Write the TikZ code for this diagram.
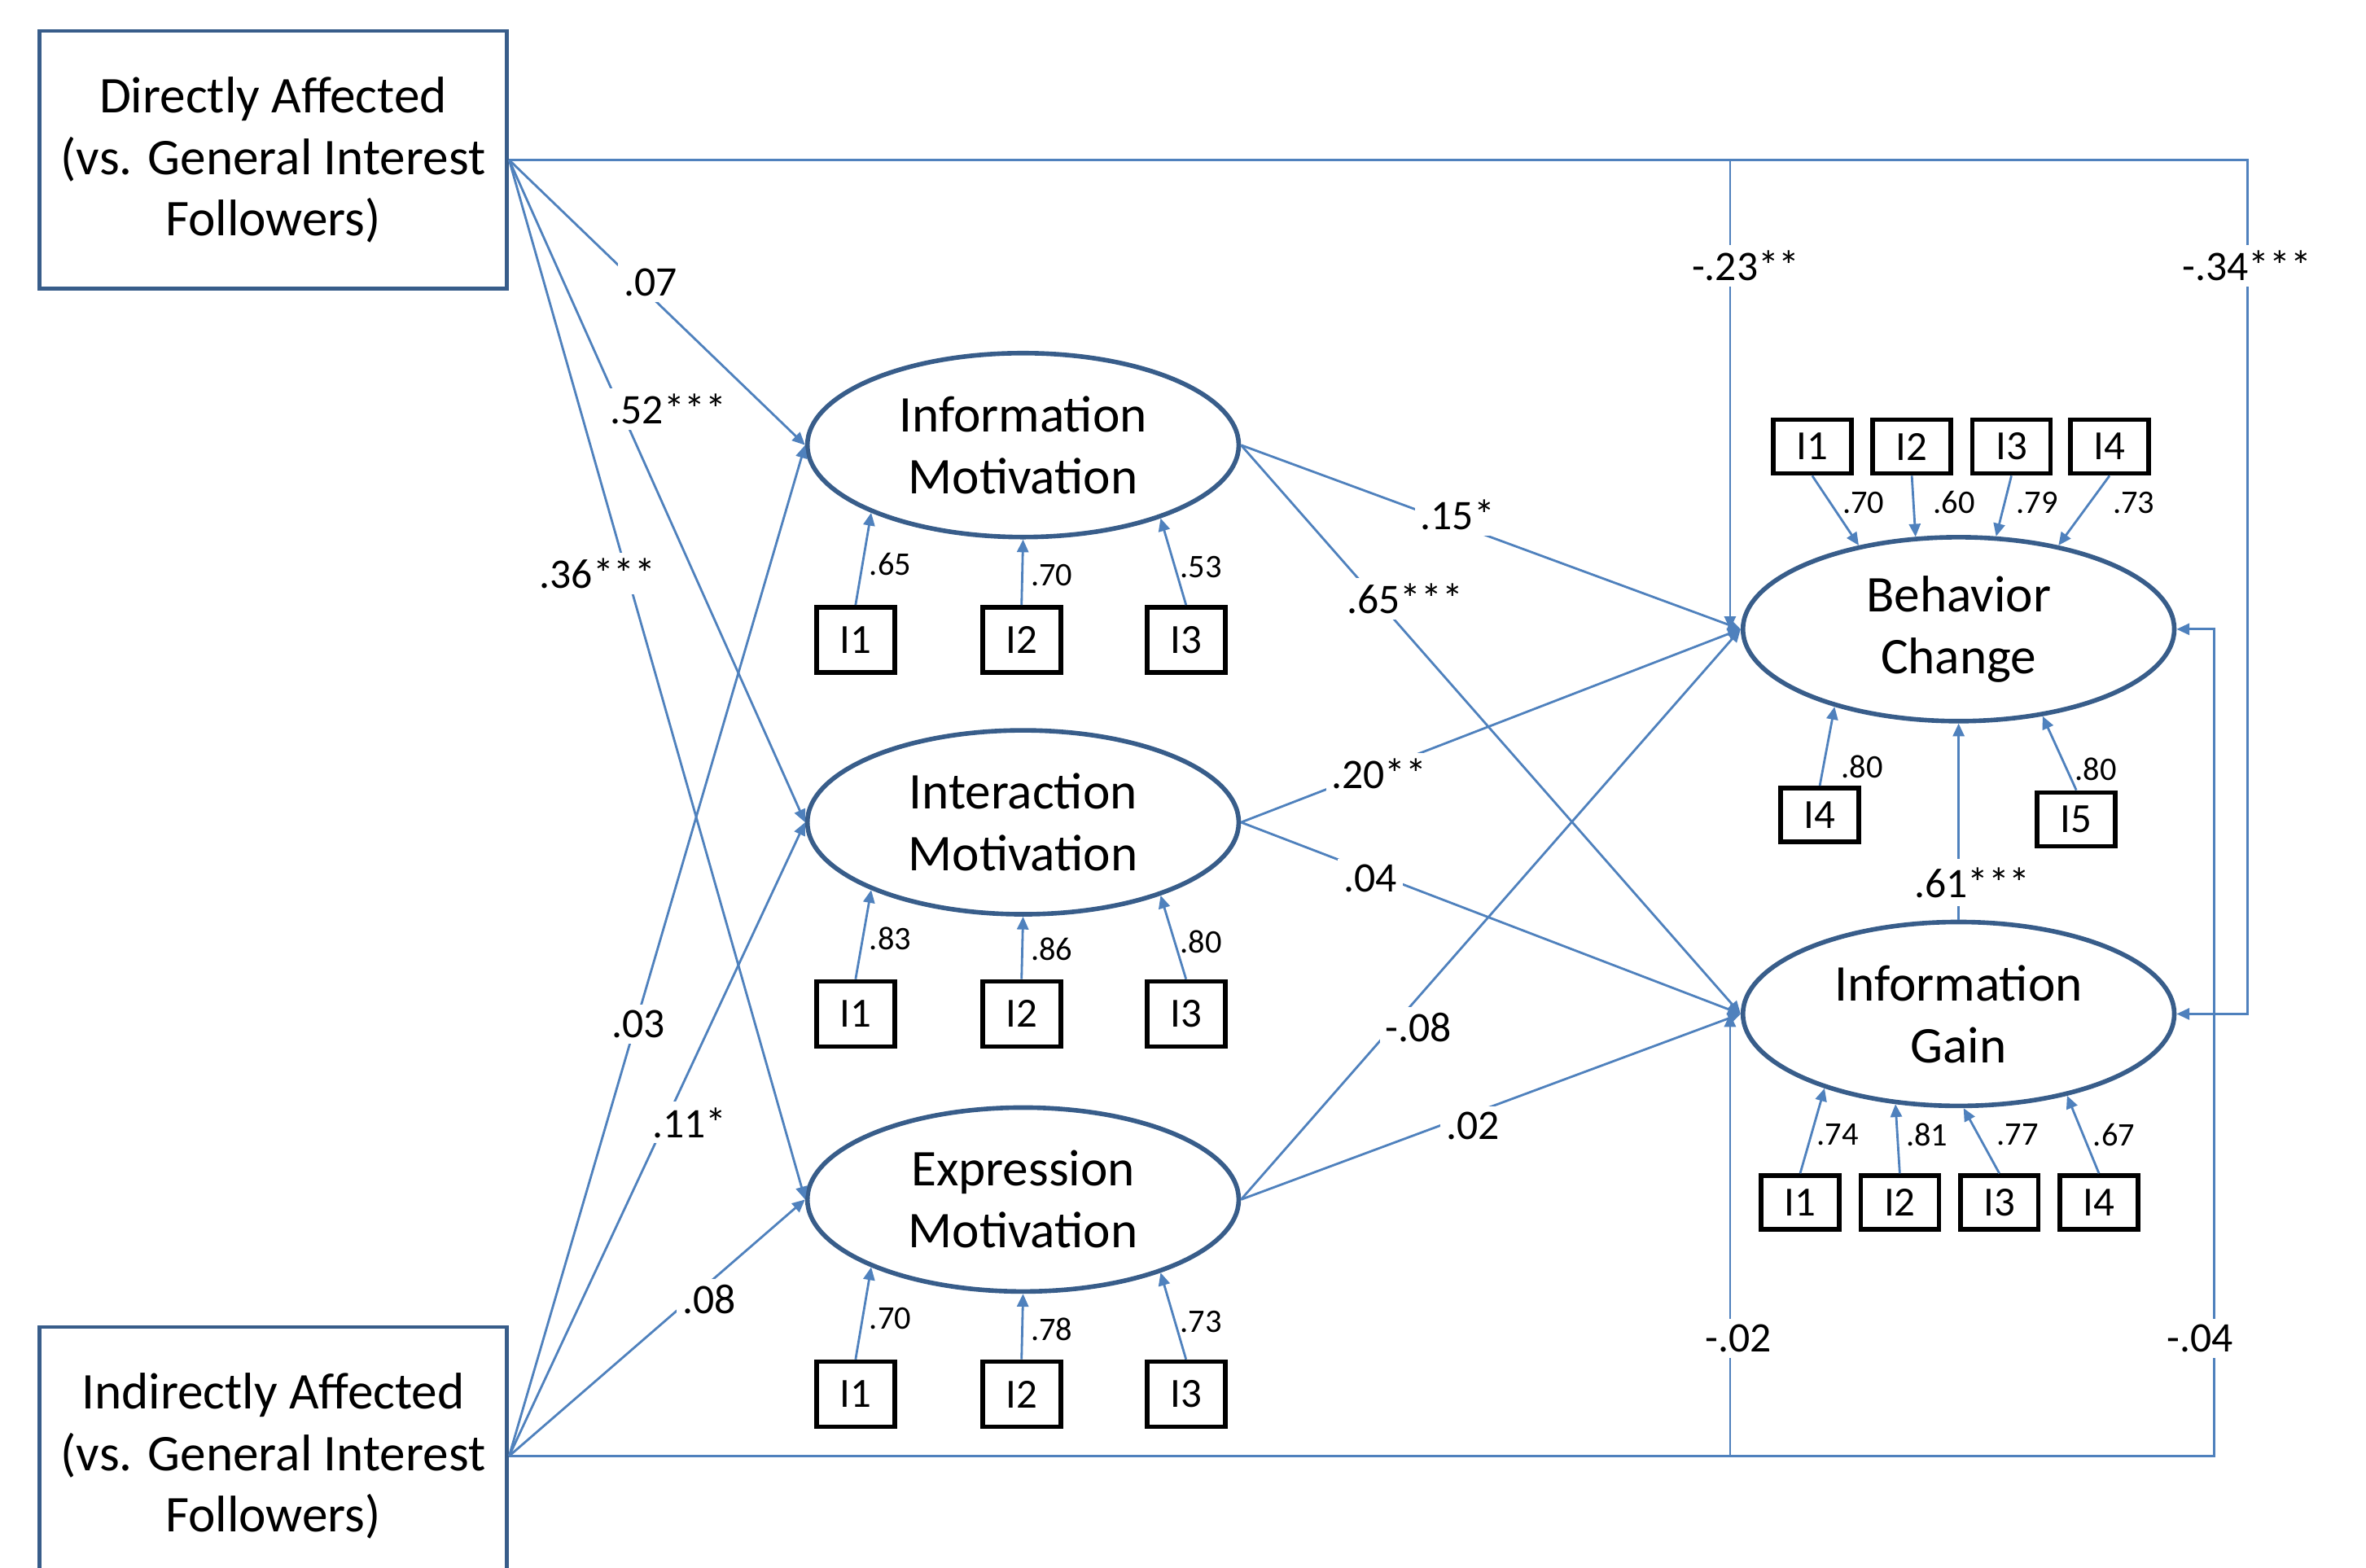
\documentclass[tikz,border=0pt]{standalone}
\usepackage{fontspec}
\setmainfont{Carlito}
\usetikzlibrary{shapes.geometric, arrows.meta, calc}
\definecolor{linkblue}{HTML}{4F81BD}
\definecolor{frameblue}{HTML}{385D8A}

\begin{document}
\begin{tikzpicture}[
    x=0.018533cm, y=-0.018533cm,
    groupbox/.style={rectangle, draw=frameblue, line width=1.4pt, minimum width=5.75cm, minimum height=3.17cm, align=center, font=\fontsize{18}{21.6}\selectfont, inner sep=0pt},
    latent/.style={ellipse, draw=frameblue, line width=1.6pt, minimum width=5.3cm, minimum height=2.26cm, align=center, font=\fontsize{18}{21.6}\selectfont, inner sep=0pt},
    obs/.style={rectangle, draw=black, line width=1.6pt, minimum width=0.96cm, minimum height=0.8cm, inner sep=0pt, font=\fontsize{14.5}{17}\selectfont},
    obssm/.style={obs, minimum height=0.66cm},
    link/.style={draw=linkblue, line width=0.8pt, -{Triangle[length=4.5pt, width=4pt]}},
    coef/.style={fill=white, inner sep=2pt, font=\fontsize{14.7}{17}\selectfont},
    load/.style={inner sep=1pt, font=\fontsize{11.5}{13}\selectfont},
]
    \useasboundingbox (0,0) rectangle (1568,1039);

    % groups
    \node[groupbox] (dir) at (181,106) {Directly Affected\\(vs. General Interest\\Followers)};
    \node[groupbox] (ind) at (181,965) {Indirectly Affected\\(vs. General Interest\\Followers)};

    % latent variables
    \node[latent] (im) at (678,295) {Information\\Motivation};
    \node[latent] (xm) at (678,545) {Interaction\\Motivation};
    \node[latent] (em) at (678,795) {Expression\\Motivation};
    \node[latent] (bc) at (1298,417) {Behavior\\Change};
    \node[latent] (ig) at (1298,672) {Information\\Gain};

    % items of the three motivations
    \foreach \m/\y/\a/\b/\c in {im/424/.65/.70/.53, xm/672/.83/.86/.80, em/924/.70/.78/.73} {
        \node[obs] (\m1) at (567,\y) {I1};
        \node[obs] (\m2) at (677,\y) {I2};
        \node[obs] (\m3) at (786,\y) {I3};
        \draw[link] (\m1.north) -- (\m.-156);
        \draw[link] (\m2.north) -- (\m.south);
        \draw[link] (\m3.north) -- (\m.-28);
        \node[load] (\m1l) at (590,\y-50) {\a};
        \node[load] (\m2l) at (697,\y-43) {\b};
        \node[load] (\m3l) at (796,\y-48) {\c};
    }

    % items of behavior change
    \foreach \i/\x/\a/\lx/\v in {1/1201/140/1235/.70, 2/1267/115/1295/.60, 3/1333/68/1350/.79, 4/1398/40/1414/.73} {
        \node[obssm] (bt\i) at (\x,296) {I\i};
        \draw[link] (bt\i.south) -- (bc.\a);
        \node[load] (bt\i l) at (\lx,333) {\v};
    }
    \node[obssm] (bb4) at (1206,540) {I4};
    \node[obssm] (bb5) at (1376,543) {I5};
    \draw[link] (bb4.north) -- (bc.212);
    \draw[link] (bb5.north) -- (bc.-46);
    \node[load] (bb4l) at (1234,508) {.80};
    \node[load] (bb5l) at (1389,510) {.80};

    % items of information gain
    \foreach \i/\x/\a/\lx/\v in {1/1193/-151/1218/.74, 2/1259/-125/1277/.81, 3/1325/-87/1337/.77, 4/1391/-37/1401/.67} {
        \node[obssm] (ig\i) at (\x,797) {I\i};
        \draw[link] (ig\i.north) -- (ig.\a);
        \node[load] (ig\i l) at (\lx,752) {\v};
    }

    % structural paths
    \foreach \t in {im, xm, em} {
        \draw[link] (dir.east) -- (\t.west);
        \draw[link] (ind.east) -- (\t.west);
        \draw[link] (\t.east) -- (bc.west);
        \draw[link] (\t.east) -- (ig.west);
    }
    \draw[link] (ig.north) -- (bc.south);
    \draw[link] (dir.east) -| ([xshift=-0.13cm]bc.west);
    \draw[link] (dir.east) -| ($(ig.east)+(47,0)$) -- (ig.east);
    \draw[link] (ind.east) -| ([xshift=-0.13cm]ig.west);
    \draw[link] (ind.east) -| ($(bc.east)+(25,0)$) -- (bc.east);

    % coefficients
    \node[coef] (c1) at (431,187) {.07};
    \node[coef] (c2) at (443,271) {.52***};
    \node[coef] (c3) at (396,380) {.36***};
    \node[coef] (c4) at (423,679) {.03};
    \node[coef] (c5) at (457,744) {.11*};
    \node[coef] (c6) at (470,861) {.08};
    \node[coef] (c7) at (966,341) {.15*};
    \node[coef] (c8) at (931,397) {.65***};
    \node[coef] (c9) at (914,513) {.20**};
    \node[coef] (c10) at (908,582) {.04};
    \node[coef] (c11) at (940,681) {-.08};
    \node[coef] (c12) at (976,746) {.02};
    \node[coef] (c13) at (1157,176) {-.23**};
    \node[coef] (c14) at (1489,176) {-.34***};
    \node[coef] (c15) at (1152,887) {-.02};
    \node[coef] (c16) at (1458,887) {-.04};
    \node[coef, inner sep=3pt] (c17) at (1307,585) {.61***};
\end{tikzpicture}
\end{document}
